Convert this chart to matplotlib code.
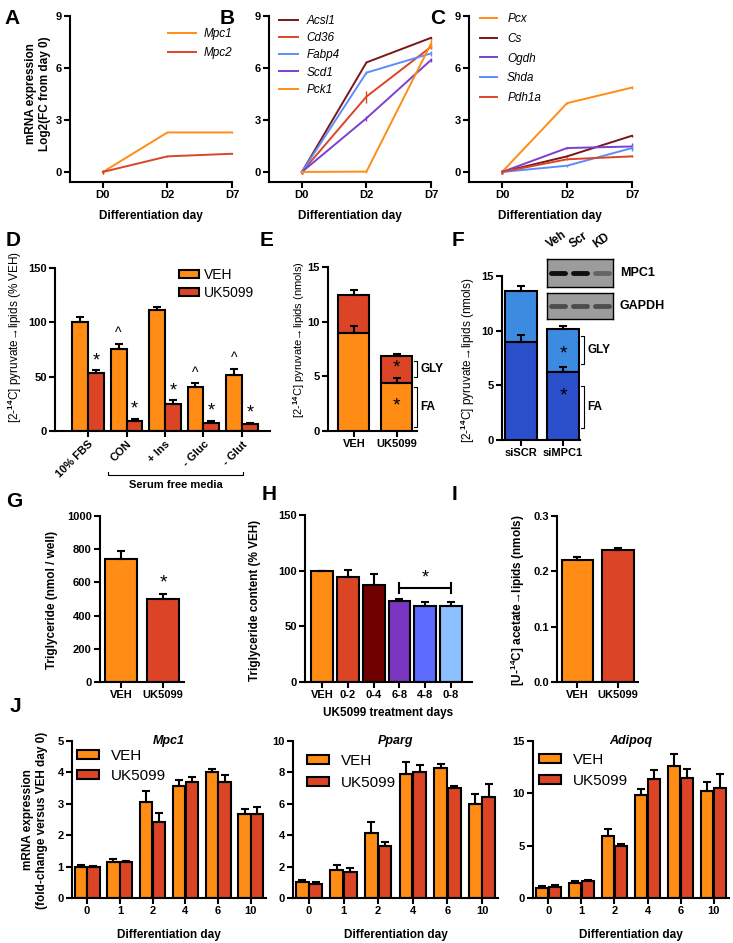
import numpy as np
import matplotlib
matplotlib.use("Agg")
import matplotlib.pyplot as plt

plt.rcParams['font.family'] = ['Liberation Sans', 'DejaVu Sans']
plt.rcParams['font.weight'] = 'bold'
plt.rcParams['axes.labelweight'] = 'bold'
plt.rcParams['mathtext.fontset'] = 'custom'
plt.rcParams['mathtext.rm'] = 'Liberation Sans'
plt.rcParams['mathtext.bf'] = 'Liberation Sans:bold'
plt.rcParams['mathtext.default'] = 'rm'

# colours
ORANGE = '#FF8C14'
RED = '#DB4526'
DARKRED = '#7A1616'
BLUE = '#5C8CFF'
PURPLE = '#7B3FD1'
FA_BLUE = '#2B4FCB'
GLY_BLUE = '#3D8BE0'

# ---- data ----
days = ["D0", "D2", "D7"]
# A
mpc1 = [0, 2.28, 2.28]
mpc2 = [0, 0.90, 1.05]
mpc1_err = [0.12, 0.03, 0.03]
mpc2_err = [0.12, 0.03, 0.03]
# B
acsl1 = [0, 6.32, 7.74]
cd36 = [0, 4.35, 7.22]
fabp4 = [0, 5.73, 6.84]
scd1 = [0, 3.10, 6.46]
pck1 = [0, 0.02, 7.40]
acsl1_err = [0.1, 0.05, 0.05]
cd36_err = [0.1, 0.35, 0.1]
fabp4_err = [0.1, 0.1, 0.15]
scd1_err = [0.1, 0.15, 0.1]
pck1_err = [0.1, 0.1, 0.25]
# C
pcx = [0, 3.97, 4.87]
cs = [0, 0.90, 2.09]
ogdh = [0, 1.38, 1.47]
shda = [0, 0.36, 1.38]
pdh1a = [0, 0.73, 0.90]
pcx_err = [0.1, 0.05, 0.1]
cs_err = [0.1, 0.05, 0.05]
ogdh_err = [0.1, 0.05, 0.2]
shda_err = [0.1, 0.05, 0.15]
pdh1a_err = [0.1, 0.05, 0.05]
# D
d_groups = ["10% FBS", "CON", "+ Ins", "- Gluc", "- Glut"]
d_veh = [100, 75.5, 111.5, 40.5, 51.5]
d_veh_err = [4.8, 5.0, 2.5, 3.5, 6.0]
d_uk = [53, 9, 25.3, 7.7, 6.5]
d_uk_err = [2.7, 2.4, 2.8, 1.5, 1.2]
d_caret = [False, True, False, True, True]
# E
e_groups = ["VEH", "UK5099"]
e_fa = [8.96, 4.39]
e_fa_err = [0.6, 0.45]
e_gly = [3.52, 2.44]
e_gly_err = [0.45, 0.18]
# F
f_groups = ["siSCR", "siMPC1"]
f_fa = [9.0, 6.2]
f_fa_err = [0.6, 0.5]
f_gly = [4.66, 3.92]
f_gly_err = [0.45, 0.3]
blot_lanes = ["Veh", "Scr", "KD"]
mpc1_band = [0.9, 0.9, 0.35]
gapdh_band = [0.5, 0.5, 0.5]
# G
g_groups = ["VEH", "UK5099"]
g_vals = [740, 500]
g_err = [48, 28]
# H
h_groups = ["VEH", "0-2", "0-4", "6-8", "4-8", "0-8"]
h_vals = [100, 94.3, 86.8, 73, 68.3, 68.3]
h_err = [0, 6.3, 10.2, 1.2, 3.6, 3.6]
h_colors = [ORANGE, RED, '#6E0000', '#7B35C0', '#5B6CFF', '#8CC0FF']
# I
i_groups = ["VEH", "UK5099"]
i_vals = [0.221, 0.238]
i_err = [0.005, 0.005]
# J
j_days = ["0", "1", "2", "4", "6", "10"]
mpc1_veh = [0.98, 1.14, 3.05, 3.58, 4.02, 2.66]
mpc1_veh_err = [0.06, 0.11, 0.37, 0.19, 0.08, 0.18]
mpc1_uk = [0.98, 1.14, 2.42, 3.70, 3.68, 2.66]
mpc1_uk_err = [0.04, 0.03, 0.30, 0.16, 0.25, 0.24]
pparg_veh = [1.0, 1.76, 4.16, 7.88, 8.28, 6.01]
pparg_veh_err = [0.12, 0.32, 0.68, 0.78, 0.28, 0.59]
pparg_uk = [0.89, 1.66, 3.31, 8.03, 7.0, 6.43]
pparg_uk_err = [0.15, 0.25, 0.26, 0.46, 0.13, 0.81]
adipoq_veh = [0.96, 1.43, 5.96, 9.87, 12.64, 10.19]
adipoq_veh_err = [0.15, 0.19, 0.66, 0.58, 1.15, 0.89]
adipoq_uk = [1.05, 1.59, 4.94, 11.4, 11.46, 10.54]
adipoq_uk_err = [0.16, 0.13, 0.19, 0.8, 0.86, 1.31]

W, H = 733, 943
fig = plt.figure(figsize=(W / 100, H / 100), dpi=100)


def add_ax(x0, y0, x1, y1):
    return fig.add_axes([x0 / W, 1 - y1 / H, (x1 - x0) / W, (y1 - y0) / H])


def ftext(x, y, s, **kw):
    kw.setdefault('ha', 'center')
    kw.setdefault('va', 'center')
    return fig.text(x / W, 1 - y / H, s, **kw)


def fpos(x, y):
    return (x / W, 1 - y / H)


def style(ax, fs=8):
    for s in ['top', 'right']:
        ax.spines[s].set_visible(False)
    for s in ['left', 'bottom']:
        ax.spines[s].set_linewidth(1.5)
    ax.tick_params(direction='out', length=4, width=1.5, labelsize=fs, pad=2)


def ebar_kw():
    return dict(elinewidth=1.5, capsize=3, capthick=1.5, ecolor='k')


def up(errs):
    return [np.zeros(len(errs)), errs]


def line_panel(ax, series):
    x = np.arange(len(days))
    for name, vals, errs, col in series:
        ax.plot(x, vals, color=col, lw=1.4, label=name, clip_on=False)
        ax.errorbar(x, vals, yerr=errs, fmt='none', ecolor=col, elinewidth=1,
                    capsize=0, clip_on=False)
    ax.set_xlim(-0.51, 2)
    ax.set_ylim(-0.58, 9)
    ax.set_yticks([0, 3, 6, 9])
    ax.set_xticks(x)
    ax.set_xticklabels(days)
    style(ax)


def line_legend(ax, x, y, hl, sp, tp):
    ax.legend(loc='upper left', bbox_to_anchor=fpos(x, y), bbox_transform=fig.transFigure,
              frameon=False, borderpad=0, borderaxespad=0, handlelength=hl,
              labelspacing=sp, handletextpad=tp,
              prop={'style': 'italic', 'weight': 'normal', 'size': 8.5})


# ---- A ----
ax = add_ax(70, 16, 232, 182)
line_panel(ax, [("Mpc1", mpc1, mpc1_err, ORANGE), ("Mpc2", mpc2, mpc2_err, RED)])
line_legend(ax, 168, 28, 2.4, 0.6, 0.6)
ftext(38, 94, "mRNA expression\nLog2(FC from day 0)", rotation=90, fontsize=8.5,
      multialignment='center')
ftext(151, 216, "Differentiation day", fontsize=8.5)

# ---- B ----
ax = add_ax(269, 16, 431, 182)
line_panel(ax, [("Acsl1", acsl1, acsl1_err, DARKRED), ("Cd36", cd36, cd36_err, RED),
                ("Fabp4", fabp4, fabp4_err, BLUE), ("Scd1", scd1, scd1_err, PURPLE),
                ("Pck1", pck1, pck1_err, ORANGE)])
line_legend(ax, 279, 15, 1.6, 0.44, 0.75)
ftext(350, 216, "Differentiation day", fontsize=8.5)

# ---- C ----
ax = add_ax(469, 16, 632, 182)
line_panel(ax, [("Pcx", pcx, pcx_err, ORANGE), ("Cs", cs, cs_err, DARKRED),
                ("Ogdh", ogdh, ogdh_err, PURPLE), ("Shda", shda, shda_err, BLUE),
                ("Pdh1a", pdh1a, pdh1a_err, RED)])
line_legend(ax, 480, 13, 1.45, 0.66, 0.85)
ftext(550, 216, "Differentiation day", fontsize=8.5)

# ---- D ----
ax = add_ax(55, 268, 270, 431)
x = np.arange(len(d_groups))
w = 0.415
ax.bar(x - w / 2, d_veh, w, color=ORANGE, edgecolor='k', lw=1.5, yerr=up(d_veh_err),
       error_kw=ebar_kw(), label="VEH")
ax.bar(x + w / 2, d_uk, w, color=RED, edgecolor='k', lw=1.5, yerr=up(d_uk_err),
       error_kw=ebar_kw(), label="UK5099")
for i in range(len(d_groups)):
    ax.text(x[i] + w / 2, d_uk[i] + d_uk_err[i] + 1, '*', ha='center', va='bottom',
            fontsize=13, fontweight='normal')
    if d_caret[i]:
        ax.text(x[i] - w / 2, d_veh[i] + d_veh_err[i] + 3, '^', ha='center', va='bottom',
                fontsize=10, fontweight='normal')
ax.set_xlim(-0.86, 4.73)
ax.set_ylim(0, 150)
ax.set_yticks([0, 50, 100, 150])
ax.set_xticks(x)
ax.set_xticklabels(d_groups, rotation=45, ha='right', rotation_mode='anchor')
style(ax)
ax.legend(loc='upper left', bbox_to_anchor=fpos(179, 268), bbox_transform=fig.transFigure,
          frameon=False, borderpad=0, borderaxespad=0, handlelength=1.45,
          handleheight=0.5, labelspacing=0.3, handletextpad=0.35,
          prop={'weight': 'normal', 'size': 10})
tr = ax.get_xaxis_transform()
ax.plot([0.52, 0.52, 4.03, 4.03], [-0.25, -0.27, -0.27, -0.25], color='k', lw=0.8,
        transform=tr, clip_on=False)
ax.text(2.28, -0.33, "Serum free media", transform=tr, ha='center', va='center',
        fontsize=8)
ftext(15, 337, "[2-$^{14}$C] pyruvate\u2192lipids (% VEH)", rotation=90, fontsize=8.5,
      fontweight='normal')


def stacked(ax, fa, fa_err, gly, gly_err, c_fa, c_gly, w):
    x = np.arange(len(fa))
    ax.bar(x, fa, w, color=c_fa, edgecolor='k', lw=1.5, yerr=up(fa_err), error_kw=ebar_kw(),
           zorder=3)
    ax.bar(x, gly, w, bottom=fa, color=c_gly, edgecolor='k', lw=1.5,
           yerr=up(gly_err), error_kw=ebar_kw(), zorder=2)
    ax.set_ylim(0, 15)
    ax.set_yticks([0, 5, 10, 15])
    ax.set_xticks(x)
    style(ax)
    return x


def bracket(ax, xpos, y0, y1, label):
    d = 0.07
    ax.plot([xpos - d, xpos, xpos, xpos - d], [y0, y0, y1, y1], color='k', lw=0.8,
            clip_on=False)
    ax.text(xpos + 0.08, (y0 + y1) / 2, label, ha='left', va='center', fontsize=8.5)


# ---- E ----
ax = add_ax(328, 267, 417, 431)
x = stacked(ax, e_fa, e_fa_err, e_gly, e_gly_err, ORANGE, RED, 0.72)
ax.set_xlim(-0.6, 1.47)
ax.set_xticklabels(e_groups)
ax.text(1, 5.75, '*', ha='center', va='center', fontsize=14, fontweight='normal')
ax.text(1, 2.3, '*', ha='center', va='center', fontsize=14, fontweight='normal')
bracket(ax, 1.47, 4.94, 6.37, "GLY")
bracket(ax, 1.47, 0.37, 4.02, "FA")
ftext(299, 340, "[2-$^{14}$C] pyruvate\u2192lipids (nmols)", rotation=90, fontsize=8,
      fontweight='normal')

# ---- F ----
ax = add_ax(502, 276, 580, 440)
x = stacked(ax, f_fa, f_fa_err, f_gly, f_gly_err, FA_BLUE, GLY_BLUE, 0.76)
ax.set_xlim(-0.45, 1.4)
ax.set_xticklabels(f_groups)
ax.text(1, 7.9, '*', ha='center', va='center', fontsize=14, fontweight='normal')
ax.text(1, 4.0, '*', ha='center', va='center', fontsize=14, fontweight='normal')
bracket(ax, 1.5, 6.92, 9.5, "GLY")
bracket(ax, 1.5, 1.13, 4.97, "FA")
ftext(468, 360, "[2-$^{14}$C] pyruvate\u2192lipids (nmols)", rotation=90, fontsize=8.5,
      fontweight='normal')

# western blot
for (y0, y1, bands, name) in [(259, 287, mpc1_band, "MPC1"), (293, 319, gapdh_band, "GAPDH")]:
    bx = add_ax(547, y0, 613, y1)
    bx.set_facecolor('#9C9C9C')
    bx.set_xlim(0, 3)
    bx.set_ylim(0, 1)
    bx.set_xticks([])
    bx.set_yticks([])
    for s in bx.spines.values():
        s.set_linewidth(1)
    for i, a in enumerate(bands):
        bx.plot([i + 0.2, i + 0.8], [0.5, 0.5], color='k', lw=3.5, alpha=a,
                solid_capstyle='round')
    ftext(620, (y0 + y1) / 2, name, ha='left', fontsize=9)
for i, lane in enumerate(blot_lanes):
    ftext(557 + i * 22, 250, lane, rotation=35, fontsize=8.5, ha='center', va='bottom')


def two_bar(ax, vals, errs, w):
    x = np.arange(len(vals))
    ax.bar(x, vals, w, color=[ORANGE, RED], edgecolor='k', lw=1.5, yerr=up(errs),
           error_kw=ebar_kw())
    ax.set_xticks(x)
    style(ax)
    return x


# ---- G ----
ax = add_ax(100, 516, 184, 682)
x = two_bar(ax, g_vals, g_err, 0.76)
ax.set_xlim(-0.5, 1.5)
ax.set_ylim(0, 1000)
ax.set_yticks(range(0, 1001, 200))
ax.set_xticklabels(g_groups)
ax.text(1, g_vals[1] + g_err[1] + 15, '*', ha='center', va='bottom', fontsize=14,
        fontweight='normal')
ftext(52, 600, "Triglyceride (nmol / well)", rotation=90, fontsize=8.5)

# ---- H ----
ax = add_ax(305, 515, 472, 682)
x = np.arange(len(h_groups))
ax.bar(x, h_vals, 0.85, color=h_colors, edgecolor='k', lw=1.5, yerr=up(h_err),
       error_kw=ebar_kw())
ax.set_xlim(-0.66, 5.81)
ax.set_ylim(0, 150)
ax.set_yticks([0, 50, 100, 150])
ax.set_xticks(x)
ax.set_xticklabels(h_groups)
style(ax)
ax.plot([3, 5], [84.7, 84.7], color='k', lw=1.5)
ax.plot([3, 3], [80, 89], color='k', lw=1.5)
ax.plot([5, 5], [80, 89], color='k', lw=1.5)
ax.text(4, 86, '*', ha='center', va='bottom', fontsize=13, fontweight='normal')
ftext(388, 713, "UK5099 treatment days", fontsize=8.5)
ftext(255, 600, "Triglyceride content (% VEH)", rotation=90, fontsize=8.5)

# ---- I ----
ax = add_ax(557, 516, 638, 682)
x = two_bar(ax, i_vals, i_err, 0.76)
ax.set_xlim(-0.49, 1.49)
ax.set_ylim(0, 0.3)
ax.set_yticks([0, 0.1, 0.2, 0.3])
ax.set_yticklabels(["0.0", "0.1", "0.2", "0.3"])
ax.set_xticklabels(i_groups)
ftext(518, 600, "[U-$^{\\mathbf{14}}$C] acetate\u2192lipids (nmols)", rotation=90,
      fontsize=8.5)


# ---- J ----
def j_panel(box, veh, veh_err, uk, uk_err, ymax, yticks, title, leg_xy, leg_sp):
    ax = add_ax(*box)
    x = np.arange(len(j_days))
    w = 0.37
    ax.bar(x - w / 2 - 0.01, veh, w, color=ORANGE, edgecolor='k', lw=1.5, yerr=up(veh_err),
           error_kw=ebar_kw(), label="VEH")
    ax.bar(x + w / 2 + 0.01, uk, w, color=RED, edgecolor='k', lw=1.5, yerr=up(uk_err),
           error_kw=ebar_kw(), label="UK5099")
    ax.set_xlim(-0.46, 5.46)
    ax.set_ylim(0, ymax)
    ax.set_yticks(yticks)
    ax.set_xticks(x)
    ax.set_xticklabels(j_days)
    style(ax)
    ax.text(0.5, 1.0, title, transform=ax.transAxes, ha='center', va='center',
            fontsize=9, style='italic')
    ax.legend(loc='upper left', bbox_to_anchor=fpos(*leg_xy), bbox_transform=fig.transFigure,
              frameon=False, borderpad=0, borderaxespad=0, handlelength=1.45,
              handleheight=0.5, labelspacing=leg_sp, handletextpad=0.8,
              prop={'weight': 'normal', 'size': 11})
    cx = (box[0] + box[2]) / 2
    ftext(cx, 935, "Differentiation day", fontsize=8.5)
    return ax


j_panel((72, 741, 266, 898), mpc1_veh, mpc1_veh_err, mpc1_uk, mpc1_uk_err, 5,
        [0, 1, 2, 3, 4, 5], "Mpc1", (77, 749), 0.37)
j_panel((293, 741, 498, 898), pparg_veh, pparg_veh_err, pparg_uk, pparg_uk_err, 10,
        [0, 2, 4, 6, 8, 10], "Pparg", (307, 754), 0.5)
j_panel((533, 741, 729, 898), adipoq_veh, adipoq_veh_err, adipoq_uk, adipoq_uk_err, 15,
        [0, 5, 10, 15], "Adipoq", (539, 753), 0.45)
ftext(35, 820, "mRNA expression\n(fold-change versus VEH day 0)", rotation=90, fontsize=8.5,
      multialignment='center')

# panel letters
for letter, px, py in [("A", 4, 9), ("B", 220, 9), ("C", 430, 9), ("D", 6, 231),
                       ("E", 260, 231), ("F", 452, 231), ("G", 6, 492), ("H", 262, 485),
                       ("I", 452, 485), ("J", 10, 697)]:
    ftext(px, py, letter, ha='left', va='top', fontsize=15)

fig.savefig("out.png", dpi=100)
